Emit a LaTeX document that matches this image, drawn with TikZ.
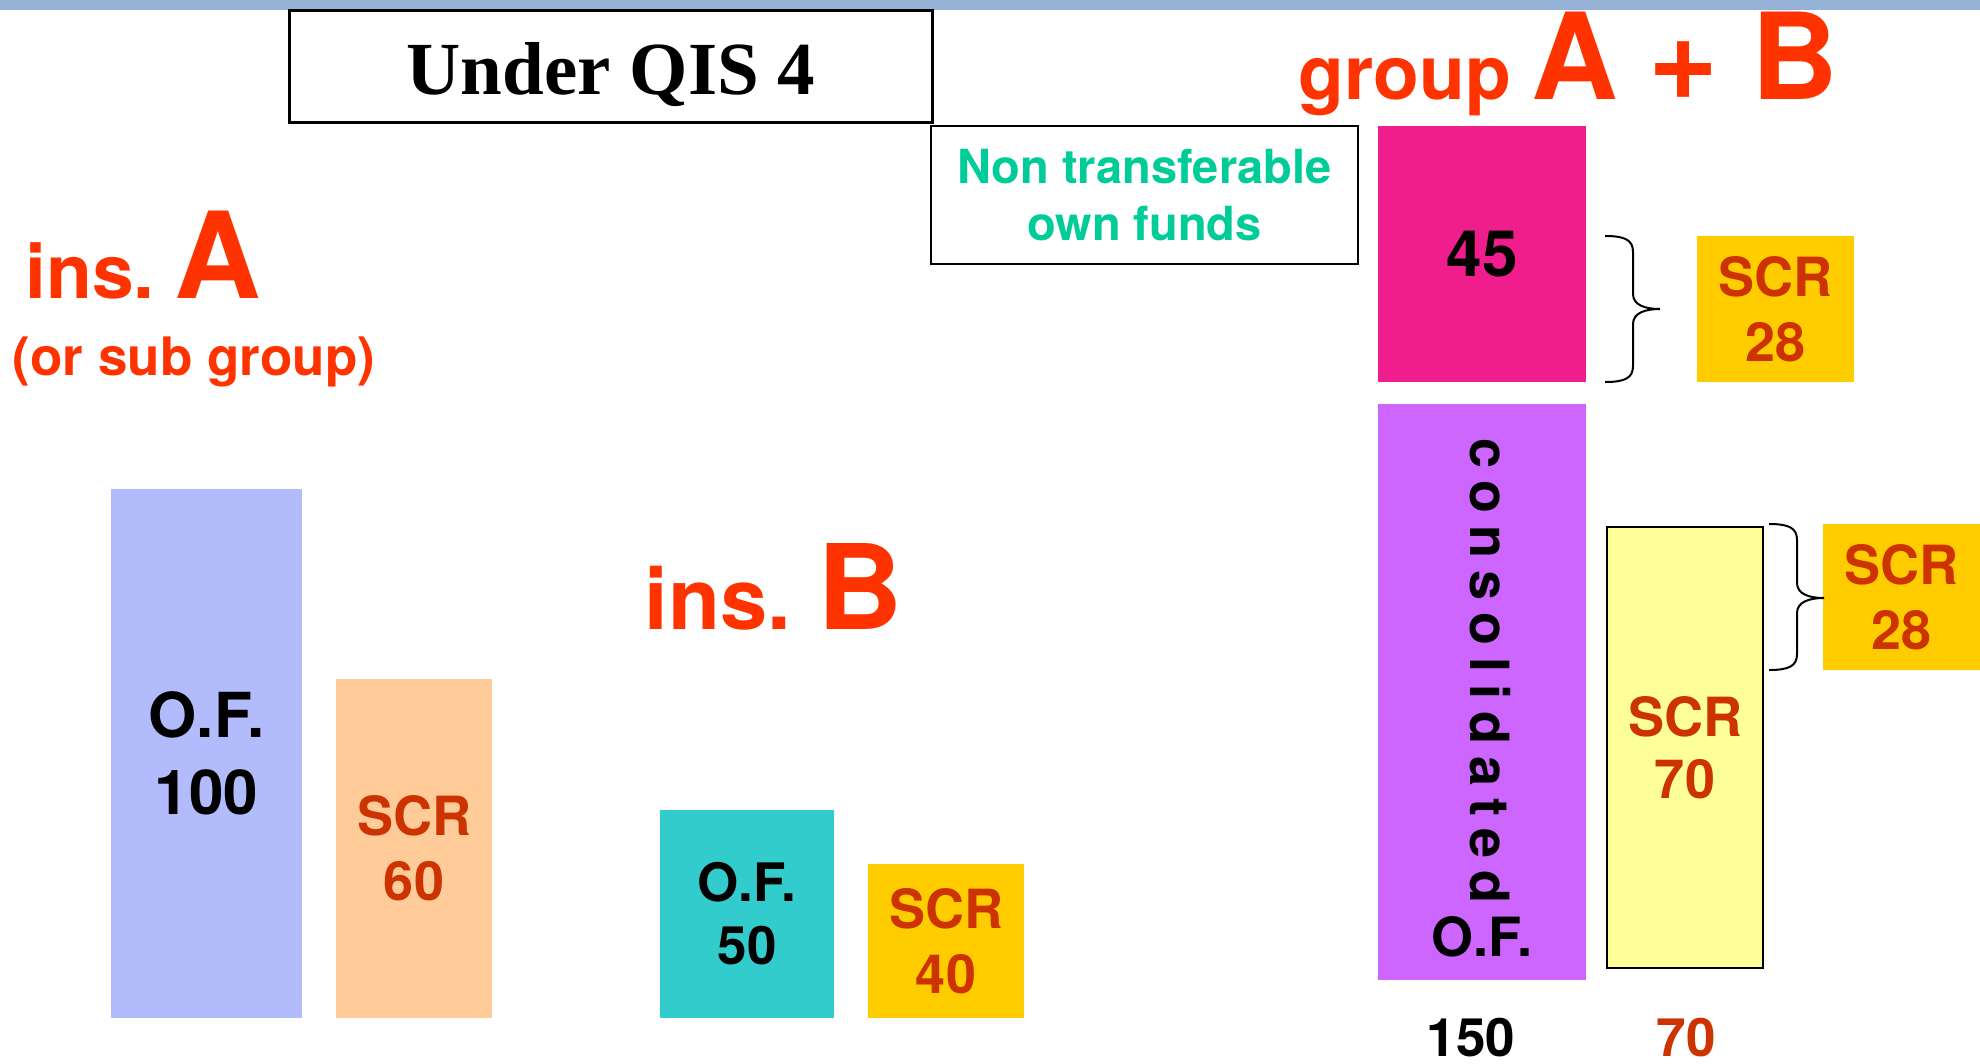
\documentclass[tikz,border=0pt]{standalone}
\usepackage{fontspec}
\setmainfont{TeX Gyre Heros}
\newfontfamily\titleserif{Liberation Serif}
\definecolor{bandblue}{HTML}{95B3D7}
\definecolor{hot}{HTML}{FF3300}
\definecolor{scrred}{HTML}{CC3300}
\definecolor{ofblue}{HTML}{B2BBFC}
\definecolor{peach}{HTML}{FFCC99}
\definecolor{tealbox}{HTML}{33CCCC}
\definecolor{goldbox}{HTML}{FFCC00}
\definecolor{pinkbox}{HTML}{F01E8C}
\definecolor{purplebox}{HTML}{CC66FF}
\definecolor{lightyel}{HTML}{FFFF99}
\definecolor{greentxt}{HTML}{00CC99}
\newcommand\setfs[2]{\fontsize{#1}{#2}\selectfont}
\begin{document}
\begin{tikzpicture}[x=1pt,y=-1pt,
  box/.style={rectangle, inner sep=0pt, outer sep=0pt, anchor=north west, align=center},
  scrtext/.style={text=scrred, font=\bfseries\setfs{54}{65}},
  hottext/.style={text=hot, font=\bfseries\setfs{#1}{#1}, inner sep=0pt, anchor=base},
  bracepath/.style={draw=black, line width=2pt}]
\useasboundingbox (0,0) rectangle (1980,1063);
\fill[bandblue] (0,0) rectangle (1980,10);

% title
\node[box, draw=black, line width=3pt, minimum width=643pt, minimum height=112pt] (title) at (289,10) {};
\node[anchor=base, inner sep=0pt, font=\titleserif\bfseries\setfs{75}{75}] (titletext) at (611,94) {Under QIS 4};

% headings
\node[hottext=75] (insA) at (90,298) {ins.};
\node[hottext=120] (insAletter) at (218,298) {A};
\node[hottext=53] (subgroup) at (194,375) {(or sub group)};
\node[hottext=85] (insB) at (718,629) {ins.};
\node[hottext=118] (insBletter) at (860,629) {B};
\node[hottext=75] (grp) at (1405,99) {group};
\node[hottext=120] (grpA) at (1575,99) {A};
\node[hottext=120] (grpplus) at (1684,99) {+};
\node[hottext=120] (grpB) at (1795,99) {B};

% ins A
\node[box, fill=ofblue, minimum width=191pt, minimum height=529pt, font=\bfseries\setfs{62}{77}] (ofA) at (111,489) {O.F.\\100};
\node[box, fill=peach, minimum width=156pt, minimum height=339pt, scrtext] (scrA) at (336,679) {SCR\\60};

% ins B
\node[box, fill=tealbox, minimum width=174pt, minimum height=208pt, font=\bfseries\setfs{53}{63}] (ofB) at (660,810) {O.F.\\50};
\node[box, fill=goldbox, minimum width=156pt, minimum height=154pt, scrtext] (scrB) at (868,864) {SCR\\40};

% group
\node[box, draw=black, line width=2.5pt, minimum width=427pt, minimum height=138pt, text=greentxt, font=\bfseries\setfs{47}{57}] (nontr) at (931,126) {Non transferable\\own funds};
\node[box, fill=pinkbox, minimum width=208pt, minimum height=256pt, font=\bfseries\setfs{64}{64}] (nt45) at (1378,126) {45};
\node[box, fill=purplebox, minimum width=208pt, minimum height=576pt] (cons) at (1378,404) {};
\node[rotate=-90, anchor=base, inner sep=0pt, font=\bfseries\setfs{54}{54}] (constext) at (1470,671)
  {c\kern12pt o\kern12pt n\kern12pt s\kern12pt o\kern12pt l\kern12pt i\kern12pt d\kern12pt a\kern12pt t\kern12pt e\kern12pt d};
\node[anchor=base, inner sep=0pt, font=\bfseries\setfs{54}{54}] (consof) at (1482,956) {O.F.};
\node[box, fill=lightyel, draw=black, line width=2pt, minimum width=156pt, minimum height=441pt, scrtext, font=\bfseries\setfs{54}{62}] (scr70) at (1607,527) {SCR\\70};
\node[box, fill=goldbox, minimum width=157pt, minimum height=146pt, scrtext] (scr28a) at (1697,236) {SCR\\28};
\node[box, fill=goldbox, minimum width=157pt, minimum height=146pt, scrtext] (scr28b) at (1823,524) {SCR\\28};

\node[anchor=base, inner sep=0pt, font=\bfseries\setfs{53}{53}] (tot150) at (1471,1056) {150};
\node[anchor=base, inner sep=0pt, text=scrred, font=\bfseries\setfs{53}{53}] (tot70) at (1686,1056) {70};

% braces
\draw[bracepath] (1605,236) .. controls (1625,236) and (1633,240) .. (1633,252) -- (1633,294)
  .. controls (1633,305) and (1645,309) .. (1660,309)
  .. controls (1645,309) and (1633,313) .. (1633,324) -- (1633,366)
  .. controls (1633,378) and (1625,382) .. (1605,382);
\draw[bracepath] (1769,524) .. controls (1789,524) and (1797,528) .. (1797,540) -- (1797,583)
  .. controls (1797,594) and (1809,598) .. (1824,598)
  .. controls (1809,598) and (1797,602) .. (1797,613) -- (1797,654)
  .. controls (1797,666) and (1789,670) .. (1769,670);
\end{tikzpicture}
\end{document}
